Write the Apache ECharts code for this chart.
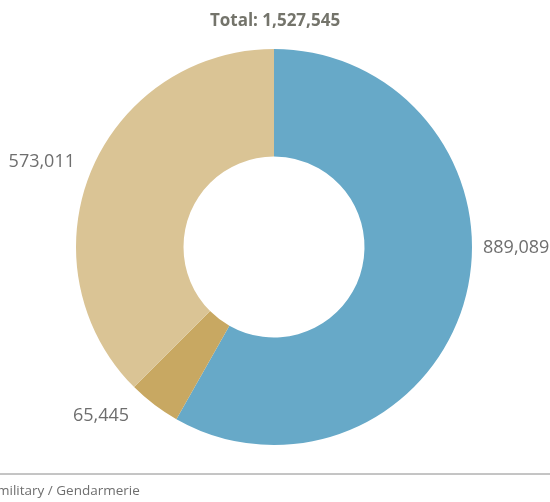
<!DOCTYPE html>
<html>
<head>
<meta charset="utf-8">
<script src="https://cdn.jsdelivr.net/npm/echarts@6/dist/echarts.min.js"></script>
<style>
  html, body { margin: 0; padding: 0; background: #fff; }
  #chart { width: 550px; height: 502px; }
</style>
</head>
<body>
<div id="chart"></div>
<script>
// Personnel by category
const categories = ['Police', 'Military / Gendarmerie', 'Other'];
const values = [889089, 65445, 573011];
const colors = ['#67a9c8', '#c8a862', '#dac495'];

const total = values.reduce((a, b) => a + b, 0);
const fmt = n => n.toLocaleString('en-US');

// Where each value label sits, relative to the chart box
const labelSpots = [
  { x: 483, y: 248, align: 'left' },
  { x: 75, y: 162, align: 'right' },
  { x: 73, y: 416, align: 'left' }
];
const spotOrder = [0, 2, 1]; // dataIndex -> spot

const chart = echarts.init(document.getElementById('chart'), null, { renderer: 'canvas' });

chart.setOption({
  animation: false,
  title: {
    text: 'Total: ' + fmt(total),
    left: 'center',
    top: 8,
    textStyle: {
      fontFamily: 'Open Sans',
      fontWeight: 'bold',
      fontSize: 17,
      color: '#74746b'
    }
  },
  graphic: [
    {
      type: 'line',
      shape: { x1: 0, y1: 474, x2: 550, y2: 474 },
      style: { stroke: '#8a8a8a', lineWidth: 1 }
    },
    {
      type: 'text',
      left: -3,
      top: 484,
      style: {
        text: 'military / Gendarmerie',
        font: '13.5px "Open Sans"',
        fill: '#6e6e6e'
      }
    }
  ],
  series: [{
    type: 'pie',
    center: [274, 247],
    radius: [90.5, 198],
    startAngle: 90,
    clockwise: true,
    silent: true,
    data: categories.map((name, i) => ({
      name,
      value: values[i],
      itemStyle: { color: colors[i] }
    })),
    label: {
      show: true,
      position: 'outside',
      overflow: 'none',
      width: 120,
      formatter: p => fmt(p.value),
      fontFamily: 'Open Sans',
      fontSize: 18,
      color: '#6e6e6e'
    },
    labelLine: { show: false },
    labelLayout: params => {
      const s = labelSpots[spotOrder[params.dataIndex]];
      return { x: s.x, y: s.y, align: s.align, verticalAlign: 'middle' };
    }
  }]
});
</script>
</body>
</html>
